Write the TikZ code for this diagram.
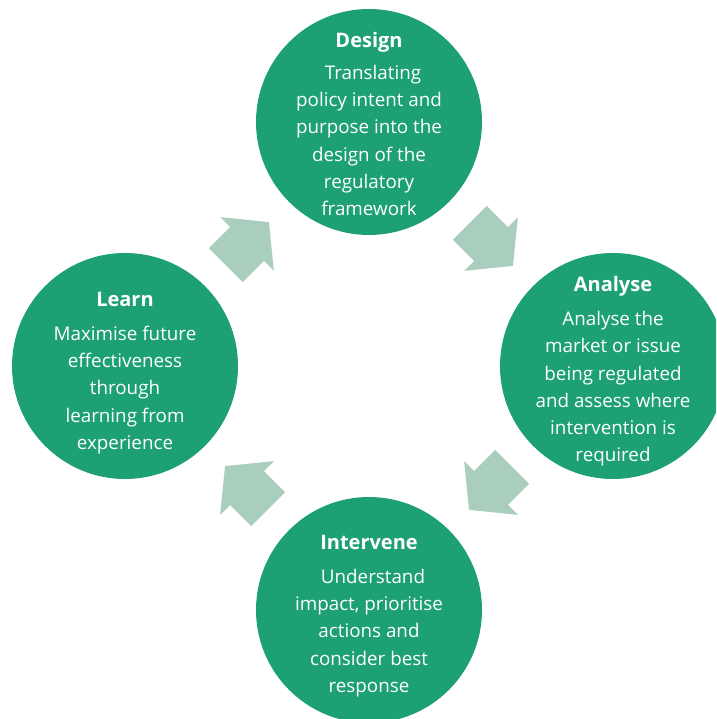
\documentclass[tikz,border=0pt]{standalone}
\usepackage{fontspec}
\setmainfont{Open Sans}
\usetikzlibrary{calc}
\definecolor{stagegreen}{RGB}{29,161,116}
\definecolor{flowgreen}{RGB}{169,206,189}
\tikzset{
  stagedisc/.style={circle, fill=stagegreen, minimum size=226pt, inner sep=0pt},
  stagetext/.style={text=white, inner sep=0pt, align=center,
    font=\fontsize{18.8pt}{27.3pt}\selectfont},
  % broad block arrow pointing along +x, centred on the origin
  flow/.pic={\fill[flowgreen] (-30,-24) -- (0,-24) -- (0,-38) -- (31,0)
     -- (0,38) -- (0,24) -- (-30,24) -- cycle;}
}
\newcommand{\stagehead}[1]{{\fontsize{20pt}{27.3pt}\selectfont\bfseries #1}}
\begin{document}
\begin{tikzpicture}[x=1pt,y=1pt]
  \useasboundingbox (0,0) rectangle (716,719);
  \clip (0,0) rectangle (716,719);

  % the four stages of the cycle
  \node[stagedisc] (design)    at (369,597) {};
  \node[stagedisc] (analyse)   at (613,353) {};
  \node[stagedisc] (intervene) at (369,109) {};
  \node[stagedisc] (learn)     at (125,353) {};

  \node[stagetext] (designtxt) at ($(design)+(0,-2)$)
    {\stagehead{Design}\\[4.5pt]
     \hspace*{8pt}Translating\\ policy intent and\\ purpose into the\\
     design of the\\ regulatory\\ framework};
  \node[stagetext] (analysetxt) at ($(analyse)+(0,-5.5)$)
    {\stagehead{Analyse}\\[6.5pt]
     Analyse the\\ market or issue\\ being regulated\\
     and assess where\\ intervention is\\ required};
  \node[stagetext] (intervenetxt) at ($(intervene)+(0,-6)$)
    {\stagehead{Intervene}\\[6.5pt]
     \hspace*{8pt}Understand\\ impact, prioritise\\ actions and\\
     consider best\\ response};
  \node[stagetext] (learntxt) at ($(learn)+(0,-7)$)
    {\stagehead{Learn}\\[6.5pt]
     Maximise future\\ effectiveness\\ through\\
     learning from\\ experience};

  % arrows carrying the cycle round clockwise
  \pic[rotate=45]  at ($(learn)!0.5!(design)$)     {flow};
  \pic[rotate=-45] at ($(design)!0.5!(analyse)$)   {flow};
  \pic[rotate=225] at ($(analyse)!0.5!(intervene)$) {flow};
  \pic[rotate=135] at ($(intervene)!0.5!(learn)$)  {flow};
\end{tikzpicture}
\end{document}
